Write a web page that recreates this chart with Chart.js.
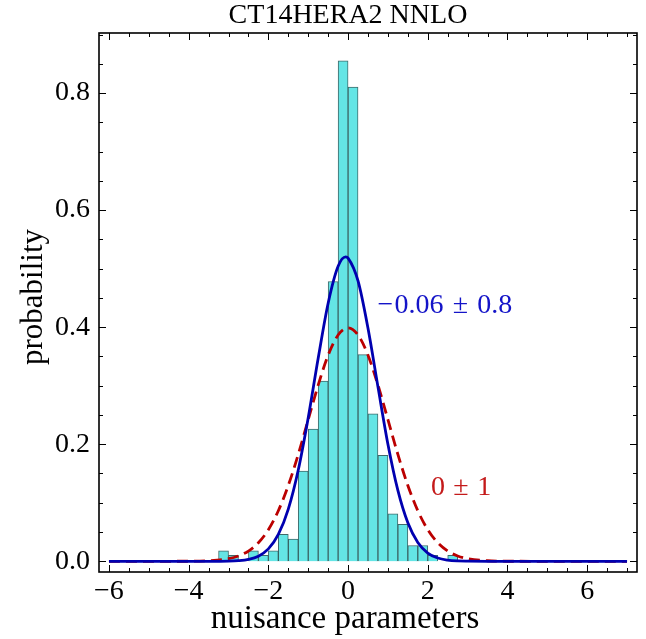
<!DOCTYPE html>
<html>
<head>
<meta charset="utf-8">
<script src="https://cdn.jsdelivr.net/npm/chart.js@4.4.1/dist/chart.umd.min.js"></script>
<style>
  html, body { margin: 0; padding: 0; background: #ffffff; }
  #wrap { width: 646px; height: 639px; }
</style>
</head>
<body>
<div id="wrap"><canvas id="chart" width="646" height="639"></canvas></div>
<script>
// ---------- data ----------
const chartTitle = "CT14HERA2 NNLO";
const xAxisTitle = "nuisance parameters";
const yAxisTitle = "probability";

// histogram: lower bin edges (bin width 0.25) and bar heights (probability density)
const binWidth = 0.25;
const binLeft = [-3.25, -3.0, -2.75, -2.5, -2.25, -2.0, -1.75, -1.5, -1.25, -1.0, -0.75, -0.5,
                 -0.25, 0.0, 0.25, 0.5, 0.75, 1.0, 1.25, 1.5, 1.75, 2.0, 2.25, 2.5];
const binHeight = [0.018, 0.010, null, 0.018, 0.010, 0.018, 0.046, 0.038, 0.154, 0.226, 0.308, 0.478,
                   0.855, 0.810, 0.353, 0.252, 0.181, 0.081, 0.063, 0.027, 0.027, 0.010, null, 0.010];

// curve sample positions and values
const curveX = [-6.0, -5.0, -4.0, -3.5, -3.0, -2.75, -2.5, -2.25, -2.0, -1.75, -1.5, -1.25, -1.0, -0.75,
                -0.5, -0.25, -0.06, 0.0, 0.25, 0.5, 0.75, 1.0, 1.25, 1.5, 1.75, 2.0, 2.25, 2.5, 2.75,
                3.0, 3.5, 4.0, 5.0, 6.0, 7.0];
// fitted gaussian, -0.06 +- 0.8 (solid blue)
const fitCurve = [0.000, 0.000, 0.000, 0.000, 0.0003, 0.0011, 0.0033, 0.0088, 0.0212, 0.0459, 0.0892, 0.156, 0.2454, 0.347,
                  0.441, 0.504, 0.520, 0.518, 0.479, 0.398, 0.298, 0.200, 0.121, 0.0657, 0.0321, 0.0141, 0.0056, 0.0020, 0.0006,
                  0.0002, 0.000, 0.000, 0.000, 0.000, 0.000];
// reference gaussian, 0 +- 1 (dashed red)
const stdCurve = [0.000, 0.000, 0.0001, 0.0009, 0.0044, 0.0091, 0.0175, 0.0317, 0.0540, 0.0863, 0.1295, 0.1826, 0.2420, 0.3011,
                  0.3521, 0.3867, 0.3982, 0.3989, 0.3867, 0.3521, 0.3011, 0.2420, 0.1826, 0.1295, 0.0863, 0.0540, 0.0317, 0.0175, 0.0091,
                  0.0044, 0.0009, 0.0001, 0.000, 0.000, 0.000];

// axis ticks
const xMajorTicks = [-6, -4, -2, 0, 2, 4, 6];
const yMajorTicks = [0.0, 0.2, 0.4, 0.6, 0.8];

// annotation texts (tokens of the math expressions)
const fitLabel = ["\u2212", "0.06", "\u00B1", "0.8"];
const stdLabel = ["0", "\u00B1", "1"];

// ---------- styling ----------
const FONT = "'Liberation Serif', 'Times New Roman', serif";
const BLUE = "#0000b0";
const RED = "#bb0000";

const fmt = v => {
  const s = Math.abs(v) < 1e-9 ? "0" : String(Math.abs(v));
  return (v < -1e-9 ? "\u2212" : "") + s;
};

const frameAndTicks = {
  id: "frameAndTicks",
  afterDatasetsDraw(chart) {
    const { ctx, chartArea: a, scales: { x, y } } = chart;
    ctx.save();
    ctx.strokeStyle = "#000";
    ctx.lineWidth = 1;
    // x ticks (major every 2, minor every 0.5), inward on bottom and top
    for (let i = -12; i <= 14; i++) {
      const v = i * 0.5;
      const major = xMajorTicks.includes(v);
      const L = major ? 7 : 4;
      const px = Math.round(x.getPixelForValue(v)) + 0.5;
      ctx.beginPath();
      ctx.moveTo(px, a.bottom); ctx.lineTo(px, a.bottom - L);
      ctx.moveTo(px, a.top); ctx.lineTo(px, a.top + L);
      ctx.stroke();
    }
    // y ticks (major every 0.2, minor every 0.05), inward on left and right
    for (let i = 0; i <= 18; i++) {
      const v = i * 0.05;
      const major = i % 4 === 0;
      const L = major ? 7 : 4;
      const py = Math.round(y.getPixelForValue(v)) + 0.5;
      ctx.beginPath();
      ctx.moveTo(a.left, py); ctx.lineTo(a.left + L, py);
      ctx.moveTo(a.right, py); ctx.lineTo(a.right - L, py);
      ctx.stroke();
    }
    ctx.lineWidth = 1.6;
    ctx.strokeRect(a.left, a.top, a.right - a.left, a.bottom - a.top);
    ctx.restore();
  },
  afterDraw(chart) {
    const { ctx, scales: { x, y } } = chart;
    ctx.save();
    ctx.fillStyle = "#000";
    // title
    ctx.font = "28px " + FONT;
    ctx.textAlign = "center";
    ctx.textBaseline = "alphabetic";
    ctx.fillText(chartTitle, 348, 23);
    // x axis title
    ctx.font = "33px " + FONT;
    ctx.fillText(xAxisTitle, 345, 628);
    // y axis title
    ctx.save();
    ctx.font = "31px " + FONT;
    ctx.translate(42, 297);
    ctx.rotate(-Math.PI / 2);
    ctx.fillText(yAxisTitle, 0, 0);
    ctx.restore();
    // annotations anchored to data coordinates
    const drawTokens = (tokens, gaps, xv, yv, color) => {
      const size = 28;
      ctx.font = size + "px " + FONT;
      ctx.fillStyle = color;
      ctx.textAlign = "left";
      let px = x.getPixelForValue(xv);
      const py = y.getPixelForValue(yv);
      tokens.forEach((t, i) => {
        ctx.fillText(t, px, py);
        px += ctx.measureText(t).width + (i < gaps.length ? gaps[i] * size : 0);
      });
    };
    drawTokens(fitLabel, [0.04, 0.33, 0.33], 0.74, 0.424, "#1414c8");
    drawTokens(stdLabel, [0.3, 0.3], 2.08, 0.113, "#c41a1a");
    ctx.restore();
  }
};

const ctx = document.getElementById("chart").getContext("2d");
new Chart(ctx, {
  type: "bar",
  data: {
    datasets: [
      {
        type: "line",
        label: "fit",
        data: curveX.map((v, i) => ({ x: v, y: fitCurve[i] })),
        borderColor: BLUE,
        borderWidth: 2.8,
        pointRadius: 0,
        fill: false,
        cubicInterpolationMode: "monotone",
        order: 1
      },
      {
        type: "line",
        label: "normal",
        data: curveX.map((v, i) => ({ x: v, y: stdCurve[i] })),
        borderColor: RED,
        borderWidth: 2.8,
        borderDash: [11, 6],
        pointRadius: 0,
        fill: false,
        cubicInterpolationMode: "monotone",
        order: 2
      },
      {
        type: "bar",
        label: "histogram",
        data: binLeft.map((l, i) => ({ x: l + binWidth / 2, y: binHeight[i] })),
        backgroundColor: "rgba(100, 229, 229, 1)",
        borderColor: "rgba(30, 80, 80, 0.85)",
        borderWidth: 1,
        borderSkipped: "bottom",
        barPercentage: 1.0,
        categoryPercentage: 1.0,
        grouped: false,
        order: 3
      }
    ]
  },
  options: {
    responsive: false,
    devicePixelRatio: 1,
    animation: false,
    events: [],
    layout: { padding: { top: 33, right: 9, left: 0, bottom: 0 } },
    plugins: {
      legend: { display: false },
      title: { display: false },
      tooltip: { enabled: false }
    },
    scales: {
      x: {
        type: "linear",
        min: -6.25,
        max: 7.25,
        offset: false,
        grid: { display: false, drawTicks: false },
        border: { display: false },
        afterBuildTicks: s => { s.ticks = xMajorTicks.map(v => ({ value: v })); },
        afterFit: s => { s.height = 67; },
        ticks: {
          color: "#000",
          padding: 3,
          maxRotation: 0,
          autoSkip: false,
          font: { family: FONT, size: 28 },
          callback: v => fmt(v)
        }
      },
      y: {
        type: "linear",
        min: -0.0183,
        max: 0.9026,
        grid: { display: false, drawTicks: false },
        border: { display: false },
        afterBuildTicks: s => { s.ticks = yMajorTicks.map(v => ({ value: v })); },
        afterFit: s => { s.width = 99; },
        ticks: {
          color: "#000",
          padding: 9,
          autoSkip: false,
          font: { family: FONT, size: 28 },
          callback: v => v.toFixed(1)
        }
      }
    }
  },
  plugins: [frameAndTicks]
});
</script>
</body>
</html>
